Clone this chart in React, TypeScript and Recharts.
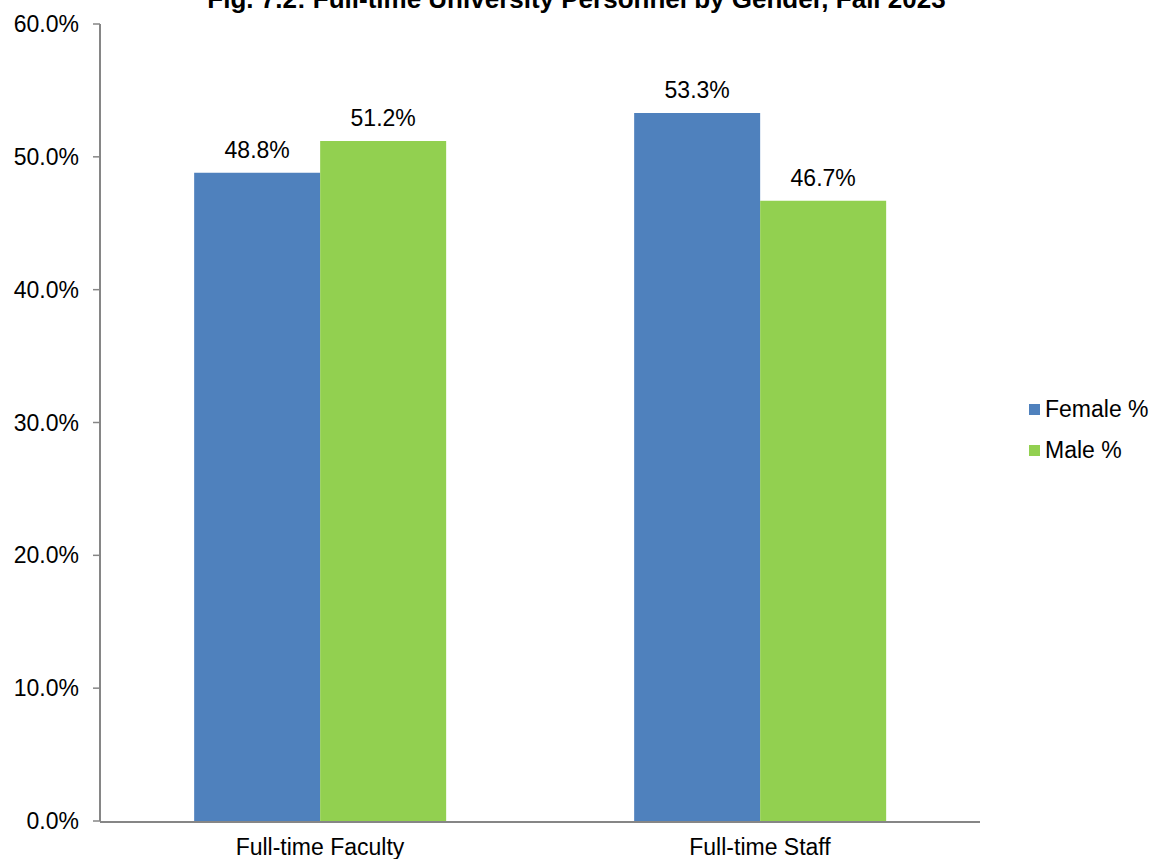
import { BarChart, Bar, XAxis, YAxis, Legend, LabelList } from 'recharts';

const categories = ['Full-time Faculty', 'Full-time Staff'];
const femalePct = [48.8, 53.3];
const malePct = [51.2, 46.7];
const yTicks = [0, 10, 20, 30, 40, 50, 60];
const edgeTicks = [0, 1, 2];

const series = [
  { key: 'female', name: 'Female %', color: '#4F81BD' },
  { key: 'male', name: 'Male %', color: '#92D050' },
];

const data = categories.map((name, i) => ({
  name,
  female: femalePct[i],
  male: malePct[i],
}));

const FONT = '"Liberation Sans", Arial, sans-serif';
const AXIS = '#868686';
const pct = (v: number) => `${v.toFixed(1)}%`;

function LegendBox() {
  return (
    <div style={{ fontFamily: FONT, fontSize: 23, color: '#000' }}>
      {series.map((s) => (
        <div key={s.key} style={{ display: 'flex', alignItems: 'center', height: 41 }}>
          <span style={{ width: 11, height: 11, background: s.color, marginRight: 5 }} />
          {s.name}
        </div>
      ))}
    </div>
  );
}

export default function App() {
  return (
    <div style={{ position: 'absolute', left: 0, top: 0, width: 1153, height: 859, background: '#fff', overflow: 'hidden' }}>
      <div
        style={{
          position: 'absolute',
          top: -14,
          left: 0,
          width: 1153,
          textAlign: 'center',
          fontFamily: FONT,
          fontWeight: 'bold',
          fontSize: 26,
          lineHeight: '26px',
          whiteSpace: 'nowrap',
          zIndex: 2,
        }}
      >
        Fig. 7.2: Full-time University Personnel by Gender, Fall 2023
      </div>
      <BarChart
        width={1153}
        height={859}
        data={data}
        margin={{ top: 24, right: 173, left: 0, bottom: 36 }}
        barCategoryGap="21.4%"
        barGap={0}
      >
        <XAxis
          dataKey="name"
          height={1}
          tickLine={false}
          axisLine={false}
          tickSize={6}
          tickMargin={12}
          tick={{ fill: '#000', fontSize: 23, fontFamily: FONT }}
        />
        <XAxis
          xAxisId="edges"
          type="number"
          dataKey={() => 0}
          domain={[0, 2]}
          ticks={edgeTicks}
          height={1}
          tick={false}
          tickSize={6}
          tickLine={{ stroke: AXIS, strokeWidth: 1.5 }}
          axisLine={{ stroke: AXIS, strokeWidth: 2 }}
        />
        <YAxis
          width={100}
          domain={[0, 60]}
          ticks={yTicks}
          tickFormatter={pct}
          tickSize={7}
          tickMargin={14}
          tick={{ fill: '#000', fontSize: 23, fontFamily: FONT }}
          tickLine={{ stroke: AXIS, strokeWidth: 1.5 }}
          axisLine={{ stroke: AXIS, strokeWidth: 2 }}
        />
        <Legend
          layout="horizontal"
          align="center"
          verticalAlign="middle"
          content={() => <LegendBox />}
          wrapperStyle={{ left: 1029, top: 389, width: 124 }}
        />
        {series.map((s) => (
          <Bar key={s.key} dataKey={s.key} name={s.name} fill={s.color} isAnimationActive={false}>
            <LabelList
              dataKey={s.key}
              position="top"
              offset={15}
              formatter={(v: any) => pct(Number(v))}
              style={{ fill: '#000', fontSize: 23, fontFamily: FONT }}
            />
          </Bar>
        ))}
      </BarChart>
    </div>
  );
}
